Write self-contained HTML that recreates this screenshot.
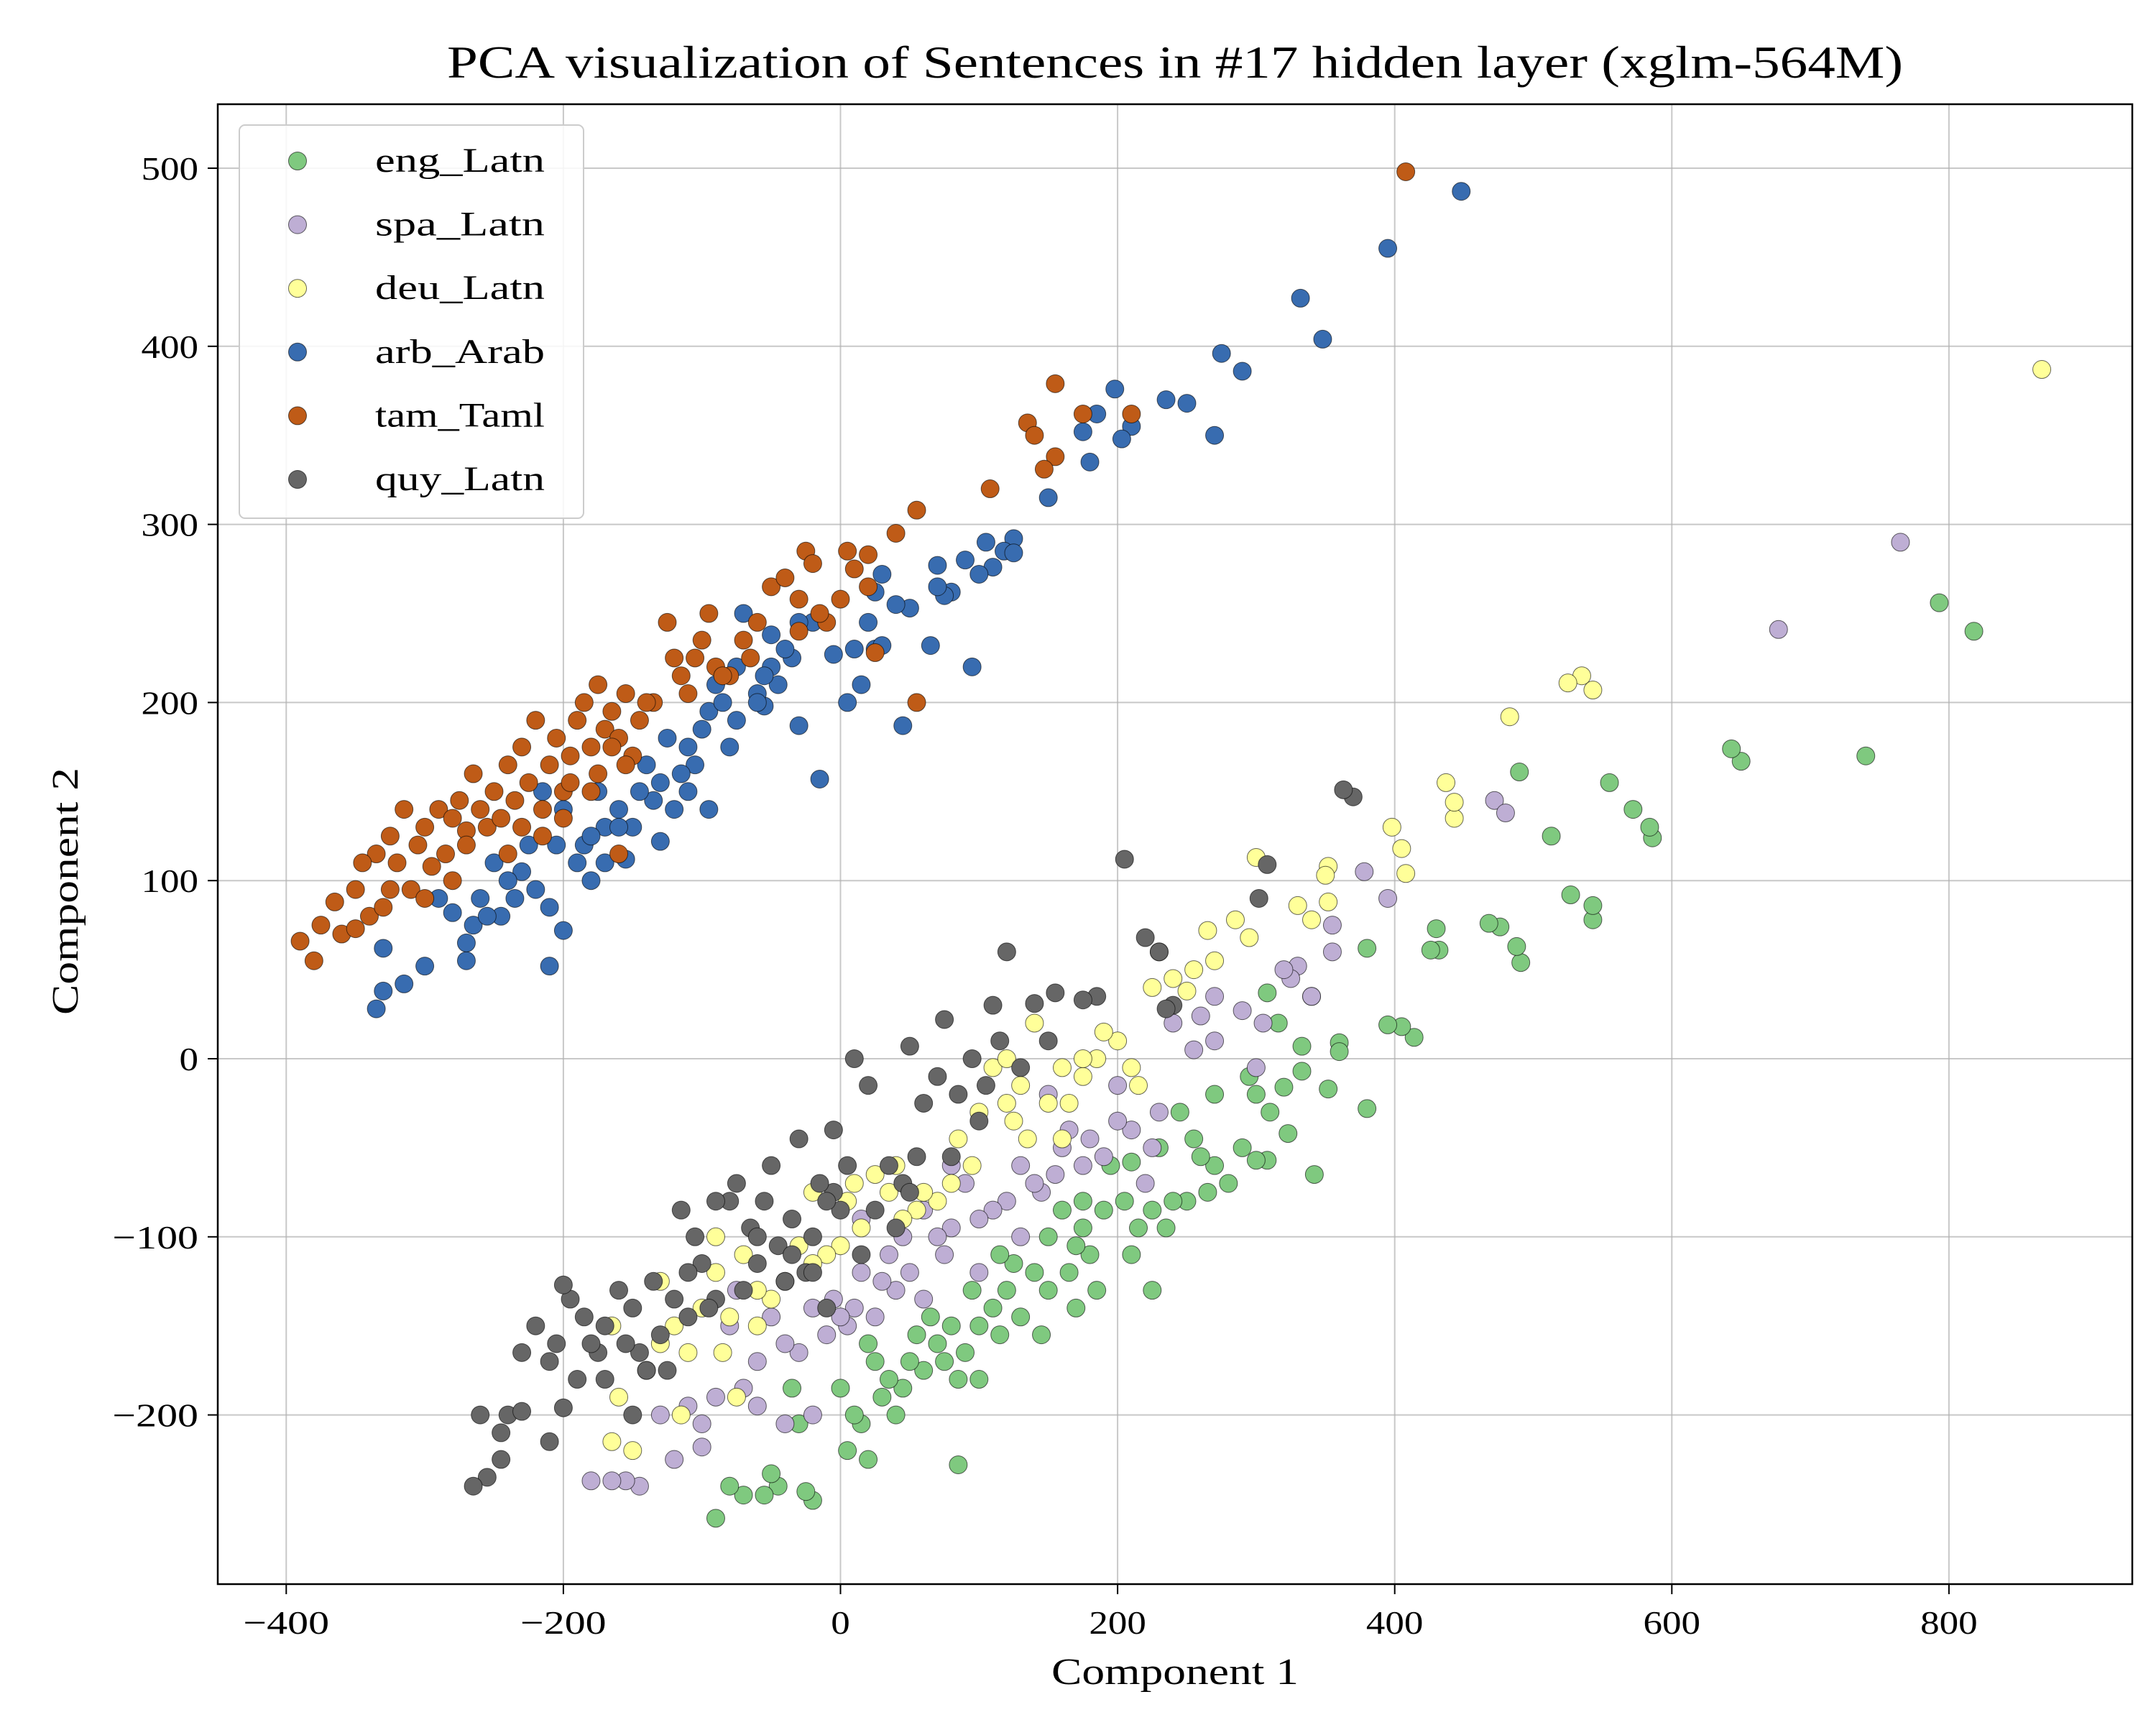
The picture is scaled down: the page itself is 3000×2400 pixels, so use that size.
<!DOCTYPE html>
<html><head><meta charset="utf-8"><style>
html,body{margin:0;padding:0;background:#fff}
svg{display:block}
text{font-family:"Liberation Serif",serif;fill:#000}
</style></head><body>
<svg id="chart" width="3000" height="2400" viewBox="0 0 3000 2400" xmlns="http://www.w3.org/2000/svg">
<rect x="0" y="0" width="3000" height="2400" fill="#fff"/>
<text x="1635" y="108" font-size="64" text-anchor="middle" textLength="2026" lengthAdjust="spacingAndGlyphs">PCA visualization of Sentences in #17 hidden layer (xglm-564M)</text>
<g id="grid"></g>
<g id="points"></g>
<rect x="303" y="145" width="2664" height="2059" fill="none" stroke="#000" stroke-width="2.5"/>
<g id="ticks"></g>
<text x="1635" y="2343" font-size="52" text-anchor="middle" textLength="344" lengthAdjust="spacingAndGlyphs">Component 1</text>
<text transform="translate(108,1240) rotate(-90)" font-size="52" text-anchor="middle" textLength="344" lengthAdjust="spacingAndGlyphs">Component 2</text>
<g id="legend"></g>
</svg>
<script>
const seriesNames=["eng_Latn","spa_Latn","deu_Latn","arb_Arab","tam_Taml","quy_Latn"];
const seriesColors=["#7fc97f","#beaed4","#ffff99","#386cb0","#bf5b17","#666666"];
const xTicks=[-400,-200,0,200,400,600,800];
const yTicks=[-200,-100,0,100,200,300,400,500];
const yTickLabels=["\u2212200","\u2212100","0","100","200","300","400","500"];
const xTickLabels=["\u2212400","\u2212200","0","200","400","600","800"];
const engPts=[[818,240],[793,256],[740,170],[650,167],[643,174],[586,124],[584,130],[572,140],[555,155],[543,78],[543,86],[527,92],[513,125],[490,161],[491,54],[488,63],[476,74],[468,76],[430,73],[432,61],[426,61],[414,12],[405,18],[395,19],[380,62],[380,-28],[360,9],[360,4],[352,-17],[342,-65],[340,35],[333,-7],[333,7],[323,-42],[320,-16],[316,20],[308,37],[308,-57],[300,-57],[310,-30],[300,-20],[295,-10],[290,-50],[280,-70],[270,-60],[265,-75],[255,-45],[250,-80],[245,-30],[235,-95],[230,-50],[225,-85],[225,-130],[215,-95],[210,-110],[205,-80],[195,-60],[190,-85],[180,-110],[175,-95],[170,-105],[165,-120],[160,-85],[150,-130],[145,-155],[140,-120],[130,-145],[125,-115],[120,-130],[115,-155],[110,-140],[100,-150],[95,-130],[90,-165],[85,-180],[80,-150],[75,-170],[70,-160],[65,-145],[60,-175],[55,-155],[50,-170],[45,-185],[40,-200],[35,-180],[30,-190],[25,-170],[20,-160],[15,-205],[10,-200],[5,-220],[0,-185],[-20,-248],[-25,-243],[-30,-205],[-45,-240],[-50,-233],[-55,-245],[-70,-245],[-80,-240],[-90,-258],[-35,-185],[20,-225],[85,-228],[210,-58],[240,-80],[260,-55],[270,-20],[100,-180],[115,-110],[150,-100],[175,-80],[185,-130],[170,-140]];
const spaPts=[[765,290],[677,241],[472,145],[480,138],[395,90],[378,105],[355,75],[355,60],[330,52],[325,45],[320,50],[340,35],[305,20],[290,27],[270,35],[260,24],[255,5],[240,20],[230,-30],[225,-50],[220,-70],[210,-40],[200,-35],[190,-55],[180,-45],[175,-60],[165,-40],[160,-50],[155,-65],[145,-75],[140,-70],[130,-60],[120,-80],[110,-85],[100,-90],[90,-70],[80,-95],[75,-110],[70,-100],[60,-85],[50,-120],[45,-100],[40,-130],[30,-125],[25,-145],[15,-120],[10,-140],[5,-150],[0,-145],[-10,-155],[-20,-140],[-30,-165],[-40,-160],[-50,-145],[-60,-170],[-70,-185],[-80,-150],[-90,-190],[-100,-205],[-110,-195],[-120,-225],[-130,-200],[-145,-240],[-155,-237],[-165,-237],[-180,-237],[-60,-195],[-40,-205],[-20,-200],[-100,-218],[80,-60],[150,-20],[200,-15],[270,10],[300,-5],[-75,-130],[-5,-135],[60,-135],[100,-120],[130,-100],[35,-110],[15,-90]];
const deuPts=[[867,387],[543,207],[535,215],[525,211],[483,192],[443,135],[443,144],[437,155],[405,118],[408,104],[398,130],[352,108],[350,103],[352,88],[340,78],[330,86],[300,113],[295,68],[285,78],[270,55],[265,72],[255,50],[250,38],[240,45],[230,60],[225,40],[210,-5],[200,10],[190,15],[185,0],[175,-10],[165,-25],[160,-5],[150,-25],[140,20],[135,-45],[130,-15],[125,-35],[120,-25],[110,-5],[100,-30],[95,-60],[85,-45],[80,-70],[70,-80],[60,-75],[55,-85],[45,-90],[35,-75],[25,-65],[15,-95],[5,-80],[0,-105],[-10,-110],[-20,-115],[-30,-105],[-40,-125],[-50,-135],[-60,-130],[-70,-110],[-80,-145],[-90,-120],[-100,-140],[-110,-165],[-120,-150],[-130,-160],[-140,-175],[-150,-220],[-160,-190],[-165,-215],[-115,-200],[-85,-165],[-60,-150],[-75,-190],[-20,-75],[40,-60],[10,-70],[160,-45],[215,-15],[175,0],[120,0],[-130,-125],[-90,-100],[-165,-150]];
const arbPts=[[448,487],[395,455],[332,427],[348,404],[275,396],[290,386],[235,370],[250,368],[198,376],[185,362],[210,355],[203,348],[175,352],[270,350],[180,335],[150,315],[125,292],[118,285],[105,290],[125,284],[110,276],[90,280],[100,272],[80,262],[75,260],[70,265],[70,277],[50,253],[40,255],[30,272],[25,262],[25,230],[20,245],[30,232],[65,232],[45,187],[95,220],[15,210],[10,230],[5,200],[-5,227],[-15,157],[-20,245],[-30,245],[-35,225],[-45,210],[-50,220],[-55,198],[-60,205],[-70,250],[-75,190],[-80,175],[-90,210],[-95,195],[-100,185],[-105,165],[-110,150],[-115,160],[-120,140],[-125,180],[-130,155],[-135,145],[-140,165],[-150,130],[-155,112],[-160,140],[-170,130],[-175,150],[-180,100],[-185,120],[-190,110],[-200,140],[-205,120],[-210,85],[-215,150],[-220,95],[-225,120],[-230,105],[-240,100],[-245,80],[-250,110],[-260,90],[-265,75],[-270,55],[-280,82],[-290,90],[-300,52],[-315,42],[-330,38],[-335,28],[-330,62],[-210,52],[-270,65],[-255,80],[-180,125],[-145,150],[-95,140],[-60,200],[-40,230],[-30,187],[-130,122],[-200,72],[-235,90],[-160,130],[-170,110],[-110,175],[-75,220],[-85,200],[-55,215],[-50,238]];
const tamPts=[[408,498],[55,308],[155,379],[175,362],[135,357],[140,350],[155,338],[147,331],[210,362],[108,320],[55,200],[-390,66],[-380,55],[-375,75],[-365,88],[-360,70],[-350,95],[-340,80],[-335,115],[-330,85],[-325,125],[-320,110],[-315,140],[-310,95],[-305,120],[-300,130],[-295,108],[-290,140],[-285,115],[-280,135],[-275,145],[-270,128],[-265,160],[-260,140],[-255,130],[-250,150],[-245,135],[-240,165],[-235,145],[-230,175],[-225,155],[-220,190],[-215,140],[-210,165],[-205,180],[-200,150],[-195,170],[-190,190],[-185,200],[-180,175],[-175,210],[-170,185],[-165,195],[-160,180],[-155,205],[-150,170],[-145,190],[-135,200],[-125,245],[-120,225],[-115,215],[-110,205],[-100,235],[-95,250],[-90,220],[-80,215],[-70,235],[-60,245],[-50,265],[-40,270],[-30,258],[-25,285],[-20,278],[-10,245],[5,285],[10,275],[20,265],[40,295],[25,228],[-160,115],[-300,90],[-350,73],[-325,95],[-270,120],[-230,130],[-195,155],[-175,160],[-140,200],[-105,225],[-85,215],[-65,225],[-30,240],[-15,250],[0,258],[20,283],[-345,110],[-280,100],[-240,115],[-215,125],[-200,135],[-180,150],[-165,175],[-155,165]];
const quyPts=[[370,147],[363,151],[308,109],[302,90],[205,112],[240,30],[235,28],[220,68],[230,60],[185,35],[175,33],[155,37],[150,10],[140,31],[130,-5],[120,60],[115,10],[110,30],[105,-15],[100,-35],[95,0],[85,-20],[80,-55],[75,22],[70,-10],[60,-25],[55,-55],[50,7],[45,-70],[40,-95],[35,-60],[25,-85],[20,-15],[15,-110],[10,0],[5,-60],[0,-85],[-5,-75],[-10,-80],[-15,-70],[-20,-100],[-25,-120],[-30,-45],[-35,-90],[-40,-125],[-45,-105],[-50,-60],[-55,-80],[-60,-115],[-65,-95],[-70,-130],[-75,-70],[-80,-80],[-90,-135],[-100,-115],[-105,-100],[-110,-120],[-115,-85],[-120,-135],[-130,-155],[-140,-175],[-145,-165],[-150,-140],[-155,-160],[-160,-130],[-170,-150],[-175,-165],[-185,-145],[-190,-180],[-195,-135],[-200,-127],[-205,-160],[-210,-170],[-220,-150],[-230,-165],[-240,-200],[-245,-210],[-255,-235],[-260,-200],[-265,-240],[-245,-225],[-200,-196],[-210,-215],[-230,-198],[-150,-200],[-125,-175],[-90,-80],[-60,-100],[-20,-120],[-10,-140],[-5,-40],[-35,-110],[50,-75],[-95,-140],[-170,-180],[-180,-160],[-135,-125],[-110,-145]];
const allSeries=[engPts,spaPts,deuPts,arbPts,tamPts,quyPts];

const NS="http://www.w3.org/2000/svg";
const X0=1169.5,XS=1.928,Y0=1473,YS=2.478;
function xs(v){return X0+v*XS;}
function ys(v){return Y0-v*YS;}
function labLen(s){let n=0;for(const ch of s){n+=(ch==='\u2212')?40:26.5;}return n;}
function mk(tag,attrs,parent){const e=document.createElementNS(NS,tag);for(const k in attrs)e.setAttribute(k,attrs[k]);parent.appendChild(e);return e;}
const grid=document.getElementById('grid'),ticks=document.getElementById('ticks'),pts=document.getElementById('points'),leg=document.getElementById('legend');
xTicks.forEach((t,i)=>{
  const g=mk('line',{x1:xs(t),x2:xs(t),y1:145,y2:2204,stroke:'#b0b0b0','stroke-width':2,'stroke-opacity':0.7},grid);
  
  
  const tk=mk('line',{x1:xs(t),x2:xs(t),y1:2204,y2:2218,stroke:'#000','stroke-width':2},ticks);
  
  
  const tl=mk('text',{x:xs(t),y:2273,'font-size':46,'text-anchor':'middle',textLength:labLen(xTickLabels[i]),lengthAdjust:'spacingAndGlyphs'},ticks);
  tl.textContent=xTickLabels[i];
  
  
});
yTicks.forEach((t,i)=>{
  const g=mk('line',{x1:303,x2:2967,y1:ys(t),y2:ys(t),stroke:'#b0b0b0','stroke-width':2,'stroke-opacity':0.7},grid);
  
  
  const tk=mk('line',{x1:289,x2:303,y1:ys(t),y2:ys(t),stroke:'#000','stroke-width':2},ticks);
  
  
  const tl=mk('text',{x:276,y:ys(t)+16,'font-size':46,'text-anchor':'end',textLength:labLen(yTickLabels[i]),lengthAdjust:'spacingAndGlyphs'},ticks);
  tl.textContent=yTickLabels[i];
  
  
});
allSeries.forEach((s,si)=>{
  s.forEach(p=>{
    const c=mk('circle',{cx:xs(p[0]),cy:ys(p[1]),r:12.5,fill:seriesColors[si],stroke:'#000','stroke-width':1,'stroke-opacity':0.6},pts);
    
    
  });
});
const lb=mk('rect',{x:333,y:174,width:479,height:547,rx:8,fill:'#fff','fill-opacity':0.85,stroke:'#ccc','stroke-width':2},leg);


seriesNames.forEach((n,i)=>{
  const y=224+i*88.6;
  const c=mk('circle',{cx:414,cy:y,r:12.5,fill:seriesColors[i],stroke:'#000','stroke-width':1,'stroke-opacity':0.6},leg);
  
  
  const t=mk('text',{x:522,y:y+15,'font-size':48,textLength:236,lengthAdjust:'spacingAndGlyphs'},leg);
  t.textContent=n;
  
  
});
</script>
</body></html>
